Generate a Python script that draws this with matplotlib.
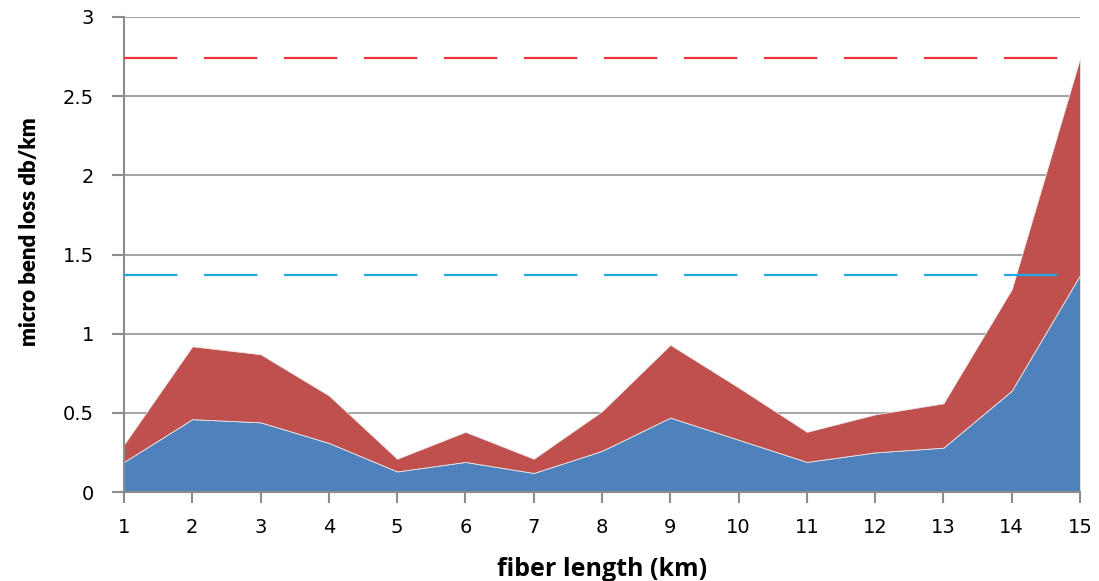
import matplotlib
matplotlib.use("Agg")
import matplotlib.pyplot as plt
import numpy as np

# fiber length (km)
length_km = [1, 2, 3, 4, 5, 6, 7, 8, 9, 10, 11, 12, 13, 14, 15]
# lower (blue) series and upper (red) stacked series, db/km
loss_blue = [0.19, 0.46, 0.44, 0.31, 0.13, 0.19, 0.12, 0.26, 0.47, 0.33, 0.19, 0.25, 0.28, 0.64, 1.37]
loss_red = [0.11, 0.46, 0.43, 0.30, 0.08, 0.19, 0.09, 0.25, 0.46, 0.33, 0.19, 0.24, 0.28, 0.64, 1.37]
# dashed reference levels
level_red = 2.74
level_blue = 1.37

fig = plt.figure(figsize=(10.99, 5.81), dpi=100)
ax = fig.add_axes([124 / 1099, 89 / 581, 956 / 1099, 475 / 581])

ax.stackplot(length_km, loss_blue, loss_red,
             colors=['#4F81BD', '#C0504D'], edgecolor='#E8E8E8', linewidth=0.6)

ax.axhline(level_red, color='#F0323C', lw=1.6, dashes=(24, 12), zorder=3)
ax.axhline(level_blue, color='#1FA8E6', lw=1.6, dashes=(24, 12), zorder=3)

ax.set_xlim(1, 15)
ax.set_ylim(0, 3)
ax.set_xticks(length_km)
ax.set_yticks(np.arange(0, 3.01, 0.5))
ax.set_yticklabels(['0', '0.5', '1', '1.5', '2', '2.5', '3'])

ax.set_axisbelow(True)
ax.grid(axis='y', color='#A6A6A6', lw=1.5)
for s in ['top', 'right']:
    ax.spines[s].set_visible(False)
for s in ['left', 'bottom']:
    ax.spines[s].set_color('#8C8C8C')
    ax.spines[s].set_linewidth(1.5)

ax.tick_params(axis='y', length=8.6, width=1.5, color='#8C8C8C', pad=13, labelsize=14)
ax.tick_params(axis='x', length=8, width=1.5, color='#8C8C8C', pad=11, labelsize=14)

ax.set_xlabel('fiber length (km)', fontsize=18, fontweight='bold', family='Open Sans')
ax.set_ylabel('micro bend loss db/km', fontsize=16, fontweight='heavy', family='Lato')
ax.xaxis.set_label_coords(0.5, -0.137)
ax.yaxis.set_label_coords(-0.0875, 0.547)

fig.savefig('out.png', dpi=100)
